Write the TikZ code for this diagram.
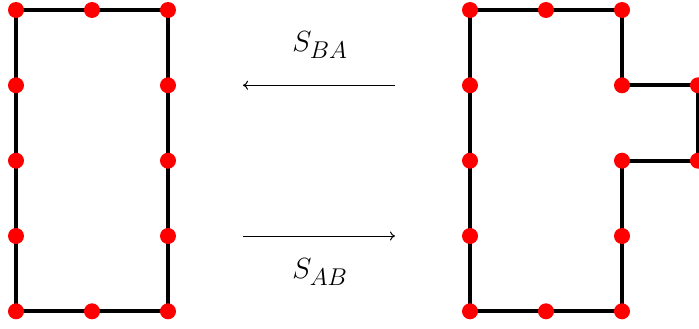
\documentclass[tikz,border=0pt]{standalone}
\usepackage{graphicx}
\usetikzlibrary{arrows.meta}
\begin{document}
\begin{tikzpicture}[x=1pt,y=-1pt,
  dot/.style={circle,fill=red,inner sep=0pt,minimum size=16pt},
  edge/.style={line width=4pt},
  arr/.style={line width=1pt,-{To[length=5pt,width=9pt]}},
  lbl/.style={font=\Huge}]
\useasboundingbox (0,0) rectangle (699,329);
% left shape
\coordinate (a1) at (16,10);
\coordinate (a2) at (92,10);
\coordinate (a3) at (168,10);
\coordinate (a4) at (168,85.3);
\coordinate (a5) at (168,160.7);
\coordinate (a6) at (168,236);
\coordinate (a7) at (168,311.3);
\coordinate (a8) at (92,311.3);
\coordinate (a9) at (16,311.3);
\coordinate (a10) at (16,236);
\coordinate (a11) at (16,160.7);
\coordinate (a12) at (16,85.3);
\draw[edge] (a1)--(a2)--(a3)--(a4)--(a5)--(a6)--(a7)--(a8)--(a9)--(a10)--(a11)--(a12)--cycle;
\foreach \i in {1,...,12} \node[dot] at (a\i) {};
% right shape
\coordinate (b1) at (470,10);
\coordinate (b2) at (546,10);
\coordinate (b3) at (622,10);
\coordinate (b4) at (622,85.3);
\coordinate (b5) at (698,85.3);
\coordinate (b6) at (698,160.7);
\coordinate (b7) at (622,160.7);
\coordinate (b8) at (622,236);
\coordinate (b9) at (622,311.3);
\coordinate (b10) at (546,311.3);
\coordinate (b11) at (470,311.3);
\coordinate (b12) at (470,236);
\coordinate (b13) at (470,160.7);
\coordinate (b14) at (470,85.3);
\draw[edge] (b1)--(b2)--(b3)--(b4)--(b5)--(b6)--(b7)--(b8)--(b9)--(b10)--(b11)--(b12)--(b13)--(b14)--cycle;
\foreach \i in {1,...,14} \node[dot] at (b\i) {};
% arrows
\coordinate (t1) at (395,85.3);
\coordinate (t2) at (243,85.3);
\coordinate (u1) at (243,236);
\coordinate (u2) at (395,236);
\draw[arr] (t1) -- (t2);
\draw[arr] (u1) -- (u2);
\node[lbl] (sba) at (320,45) {\scalebox{1.17}{$S_{BA}$}};
\node[lbl] (sab) at (320,272) {\scalebox{1.17}{$S_{AB}$}};
\end{tikzpicture}
\end{document}
